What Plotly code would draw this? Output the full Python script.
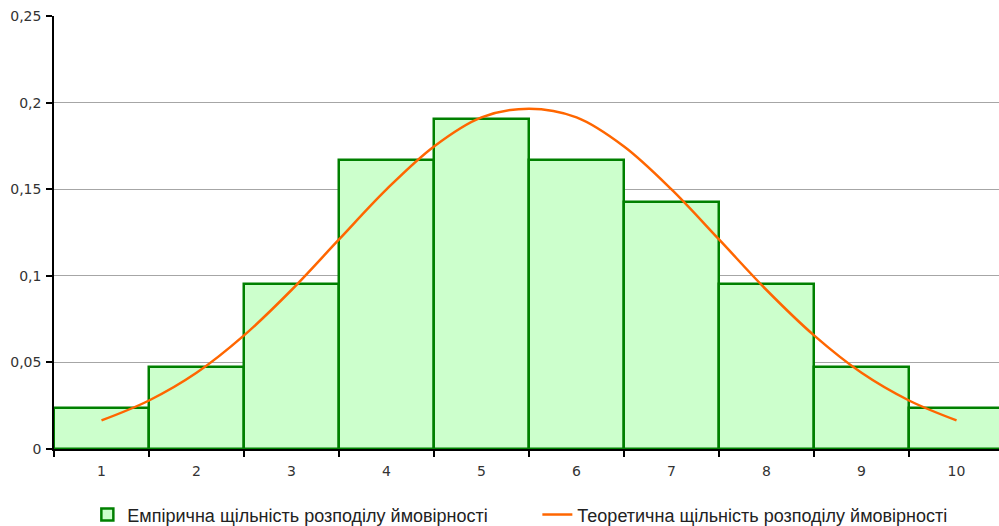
import plotly.graph_objects as go

# Data
categories = [1, 2, 3, 4, 5, 6, 7, 8, 9, 10]
empirical = [0.0238, 0.0476, 0.0952, 0.1667, 0.1905, 0.1667, 0.1429, 0.0952, 0.0476, 0.0238]

curve_x = [1, 1.5, 2, 2.5, 3, 3.5, 4, 4.5, 5, 5.5, 6, 6.5, 7, 7.5, 8, 8.5, 9, 9.5, 10]
curve_y = [0.0165, 0.0280, 0.0440, 0.0656, 0.0918, 0.1210, 0.1499, 0.1747, 0.1915, 0.1965,
           0.1915, 0.1747, 0.1499, 0.1210, 0.0918, 0.0656, 0.0440, 0.0280, 0.0165]

y_tickvals = [0, 0.05, 0.1, 0.15, 0.2, 0.25]
y_ticktext = ["0", "0,05", "0,1", "0,15", "0,2", "0,25"]
x_ticktext = [str(c) for c in categories]

name_emp = "Емпірична щільність розподілу ймовірності"
name_theo = "Теоретична щільність розподілу ймовірності"

tick_font = dict(family="DejaVu Sans, Verdana, sans-serif", size=14, color="#333333")

fig = go.Figure()
fig.add_trace(go.Bar(
    x=categories, y=empirical, width=1, name=name_emp,
    marker=dict(color="#CCFFCC", line=dict(color="#008000", width=2.5)),
))
fig.add_trace(go.Scatter(
    x=curve_x, y=curve_y, mode="lines", name=name_theo,
    line=dict(color="#FF6600", width=2.5, shape="spline", smoothing=1),
))

fig.update_layout(
    width=999, height=526,
    margin=dict(l=54, r=0, t=16, b=77, autoexpand=False),
    paper_bgcolor="white", plot_bgcolor="white",
    bargap=0,
    showlegend=True,
    legend=dict(
        orientation="h", x=0.0353, y=-0.152, xanchor="left", yanchor="middle",
        font=dict(family="Liberation Sans, Arial, sans-serif", size=18, color="#222222"),
        entrywidth=405, entrywidthmode="pixels",
        traceorder="normal",
    ),
    xaxis=dict(
        range=[0.5, 10.447],
        tickvals=categories, ticktext=x_ticktext,
        ticks="", showgrid=False, zeroline=False,
        showline=True, linecolor="black", linewidth=1.5,
        minor=dict(tick0=0.5, dtick=1, ticks="outside", ticklen=6, tickcolor="black", tickwidth=1.5, showgrid=False),
        tickfont=tick_font,
        ticklabelstandoff=8,
    ),
    yaxis=dict(
        range=[0, 0.25],
        tickvals=y_tickvals, ticktext=y_ticktext,
        ticks="outside", ticklen=6, tickcolor="black", tickwidth=1.5,
        showgrid=True, gridcolor="#A6A6A6", gridwidth=1,
        zeroline=False,
        showline=True, linecolor="black", linewidth=1.5,
        tickfont=tick_font,
        ticklabelstandoff=2,
    ),
)

fig.write_html("out.html")
